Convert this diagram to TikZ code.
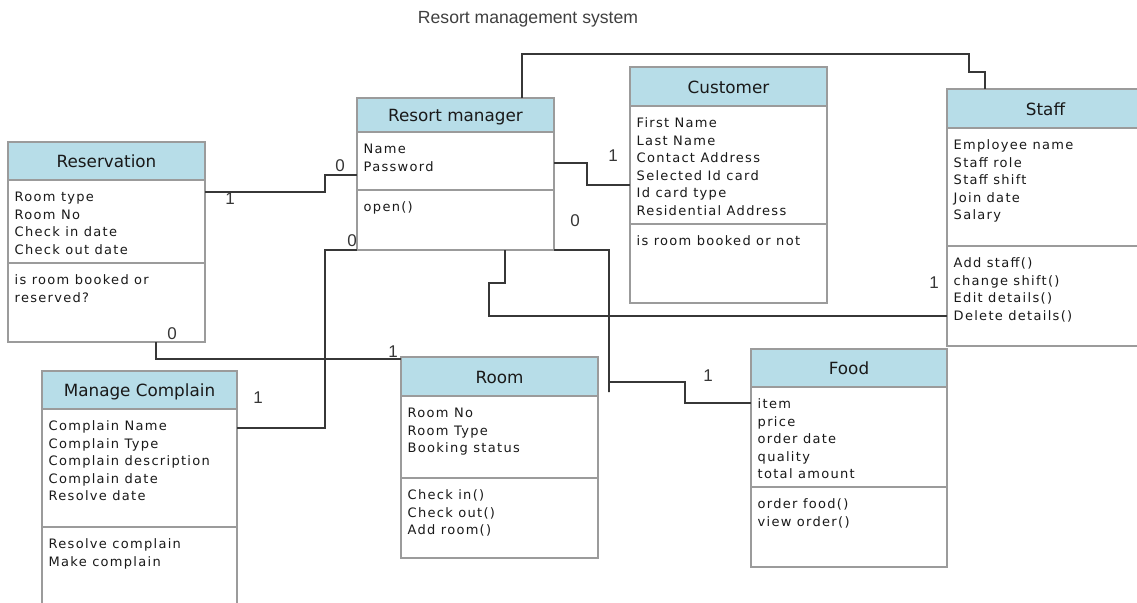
\documentclass[tikz,border=0pt]{standalone}
\usepackage{fontspec}
\setmainfont{DejaVu Sans}
\newfontfamily\attrfont[LetterSpace=10]{DejaVu Sans}
\newfontfamily\multfont{Liberation Sans}
\usetikzlibrary{positioning}
\usepackage{xcolor}
\definecolor{headblue}{RGB}{183,221,232}
\definecolor{boxgray}{RGB}{155,155,155}
\definecolor{wiregray}{RGB}{55,55,55}
\definecolor{inkgray}{RGB}{25,25,25}

\begin{document}
\begin{tikzpicture}[
        x=1pt, y=-1pt,
        classhead/.style={anchor=north west, rectangle, fill=headblue, draw=boxgray, line width=1.3pt, inner sep=0pt, outer sep=0pt, minimum width=197pt, text height=13pt, text depth=0pt, text=inkgray, font=\fontsize{16.8}{20}\selectfont},
        classpart/.style={rectangle, draw=boxgray, line width=1.3pt, inner sep=0pt, outer sep=0pt, minimum width=197pt},
        classtext/.style={anchor=north west, align=left, inner sep=0pt, text=inkgray, font=\attrfont\fontsize{13}{17.5}\selectfont},
        connector/.style={draw=wiregray, line width=1.3pt},
        mult/.style={inner sep=0pt, text=wiregray, font=\multfont\fontsize{17}{20}\selectfont}
    ]
        \fill[white] (0,0) rectangle (1137,602);
        \useasboundingbox (0,0) rectangle (1137,602);
        % Title
        \node[mult, text=black!75, font=\multfont\fontsize{17.6}{20}\selectfont] (title) at (528,19) {Resort management system};
        % Reservation
        \node[classhead, minimum height=38pt] (res) at (8,142) {Reservation};
        \node[classpart, minimum height=83pt, below=0pt of res] (res-attr) {};
        \node[classpart, minimum height=79pt, below=0pt of res-attr] (res-ops) {};
        \node[classtext] (res-attr-text) at ([xshift=6.5pt, yshift=-9.25pt]res-attr.north west) {\strut Room type\\Room No\\Check in date\\Check out date};
        \node[classtext] (res-ops-text) at ([xshift=6.5pt, yshift=-9.25pt]res-ops.north west) {\strut is room booked or\\reserved?};
        % Resort manager
        \node[classhead, minimum height=34pt] (rm) at (357,98) {Resort manager};
        \node[classpart, minimum height=58pt, below=0pt of rm] (rm-attr) {};
        \node[classpart, minimum height=60pt, below=0pt of rm-attr] (rm-ops) {};
        \node[classtext] (rm-attr-text) at ([xshift=6.5pt, yshift=-9.25pt]rm-attr.north west) {\strut Name\\Password};
        \node[classtext] (rm-ops-text) at ([xshift=6.5pt, yshift=-9.25pt]rm-ops.north west) {\strut open()};
        % Customer
        \node[classhead, minimum height=39pt] (cust) at (630,67) {Customer};
        \node[classpart, minimum height=118pt, below=0pt of cust] (cust-attr) {};
        \node[classpart, minimum height=79pt, below=0pt of cust-attr] (cust-ops) {};
        \node[classtext] (cust-attr-text) at ([xshift=6.5pt, yshift=-9.25pt]cust-attr.north west) {\strut First Name\\Last Name\\Contact Address\\Selected Id card\\Id card type\\Residential Address};
        \node[classtext] (cust-ops-text) at ([xshift=6.5pt, yshift=-9.25pt]cust-ops.north west) {\strut is room booked or not};
        % Staff
        \node[classhead, minimum height=39pt] (staff) at (947,89) {Staff};
        \node[classpart, minimum height=118pt, below=0pt of staff] (staff-attr) {};
        \node[classpart, minimum height=100pt, below=0pt of staff-attr] (staff-ops) {};
        \node[classtext] (staff-attr-text) at ([xshift=6.5pt, yshift=-9.25pt]staff-attr.north west) {\strut Employee name\\Staff role\\Staff shift\\Join date\\Salary};
        \node[classtext] (staff-ops-text) at ([xshift=6.5pt, yshift=-9.25pt]staff-ops.north west) {\strut Add staff()\\change shift()\\Edit details()\\Delete details()};
        % Manage Complain
        \node[classhead, minimum width=195pt, minimum height=38pt] (mc) at (42,371) {Manage Complain};
        \node[classpart, minimum width=195pt, minimum height=118pt, below=0pt of mc] (mc-attr) {};
        \node[classpart, minimum width=195pt, minimum height=90pt, below=0pt of mc-attr] (mc-ops) {};
        \node[classtext] (mc-attr-text) at ([xshift=6.5pt, yshift=-9.25pt]mc-attr.north west) {\strut Complain Name\\Complain Type\\Complain description\\Complain date\\Resolve date};
        \node[classtext] (mc-ops-text) at ([xshift=6.5pt, yshift=-9.25pt]mc-ops.north west) {\strut Resolve complain\\Make complain};
        % Room
        \node[classhead, minimum height=39pt] (room) at (401,357) {Room};
        \node[classpart, minimum height=82pt, below=0pt of room] (room-attr) {};
        \node[classpart, minimum height=80pt, below=0pt of room-attr] (room-ops) {};
        \node[classtext] (room-attr-text) at ([xshift=6.5pt, yshift=-9.25pt]room-attr.north west) {\strut Room No\\Room Type\\Booking status};
        \node[classtext] (room-ops-text) at ([xshift=6.5pt, yshift=-9.25pt]room-ops.north west) {\strut Check in()\\Check out()\\Add room()};
        % Food
        \node[classhead, minimum width=196pt, minimum height=38pt] (food) at (751,349) {Food};
        \node[classpart, minimum width=196pt, minimum height=100pt, below=0pt of food] (food-attr) {};
        \node[classpart, minimum width=196pt, minimum height=80pt, below=0pt of food-attr] (food-ops) {};
        \node[classtext] (food-attr-text) at ([xshift=6.5pt, yshift=-9.25pt]food-attr.north west) {\strut item\\price\\order date\\quality\\total amount};
        \node[classtext] (food-ops-text) at ([xshift=6.5pt, yshift=-9.25pt]food-ops.north west) {\strut order food()\\view order()};
        % Connectors
        \draw[connector] ([yshift=29.5pt]res-attr.east) -- ++(120,0) |- ([yshift=-14pt]rm-attr.west);
        \draw[connector] ([yshift=-2pt]rm-attr.east) -- ++(33,0) |- ([yshift=-20pt]cust-attr.west);
        \draw[connector] ([xshift=66.5pt]rm.north) -- ++(0,-44) -- ++(447,0) -- ++(0,18) -| ([xshift=38pt]staff.north west);
        \draw[connector] (rm-ops.south west) -- ++(-32,0) |- ([yshift=-19pt]mc-attr.north east);
        \draw[connector] ([xshift=148pt]res-ops.south west) |- ([yshift=-2pt]room.north west);
        \draw[connector] ([xshift=49.5pt]rm-ops.south) -- ++(0,33) -- ++(-16,0) |- ([yshift=-70pt]staff-ops.north west);
        \draw[connector] (rm-ops.south east) -- ++(55,0) -- ++(0,142) -- ++(0,-10) -- ++(76,0) |- ([yshift=-16pt]food-attr.north west);
        % Multiplicities
        \node[mult] (res-rm-1) at (230,199) {1};
        \node[mult] (res-rm-0) at (340,166) {0};
        \node[mult] (rm-cust-1) at (613,156) {1};
        \node[mult] (rm-mc-0) at (352,241) {0};
        \node[mult] (rm-mc-1) at (258,398) {1};
        \node[mult] (res-room-0) at (172,334) {0};
        \node[mult] (res-room-1) at (393,352) {1};
        \node[mult] (rm-staff-1) at (934,283) {1};
        \node[mult] (rm-food-0) at (575,221) {0};
        \node[mult] (rm-food-1) at (708,376) {1};
    \end{tikzpicture}
\end{document}
